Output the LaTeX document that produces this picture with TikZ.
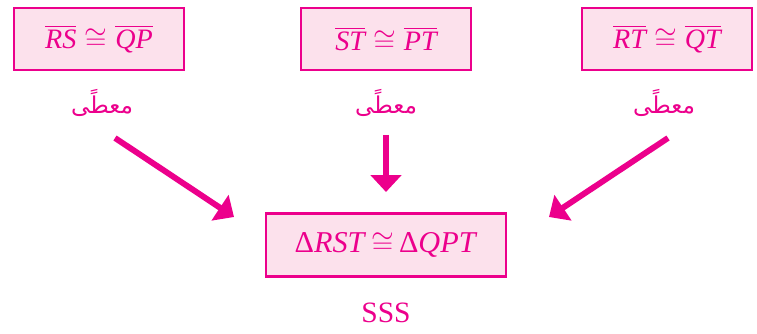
\documentclass[tikz,border=0pt]{standalone}
\usepackage{amsmath}
\usepackage{fontspec}
\usepackage{xcolor}
\usepackage{tikz}
\usetikzlibrary{positioning, arrows.meta}
\setmainfont{Liberation Serif}
\newfontfamily\arabicfont[Script=Arabic]{DejaVu Sans}
\TeXXeTstate=1
\definecolor{tmagenta}{RGB}{236,0,140}
\definecolor{tpink}{RGB}{252,225,236}
\newcommand{\seg}[1]{\overline{\textit{#1}}}

\begin{document}
\begin{tikzpicture}[x=0.025cm, y=-0.025cm,
    givenbox/.style={draw=tmagenta, fill=tpink, line width=1.9pt, text=tmagenta,
      minimum width=4.25cm, minimum height=1.55cm, font=\fontsize{20}{24}\selectfont},
    resultbox/.style={givenbox, minimum width=6cm, minimum height=1.58cm},
    reason/.style={text=tmagenta, font=\fontsize{16.5}{20}\selectfont},
    implies/.style={-{Triangle[length=0.42cm, width=0.75cm]}, line width=4.2pt, tmagenta}]
    \useasboundingbox (0,0) rectangle (757,334);

    % Given sides
    \node[givenbox] (rsqp) at (99,39) {$\seg{RS}\cong\seg{QP}$};
    \node[givenbox] (stpt) at (386,39) {$\seg{ST}\cong\seg{PT}$};
    \node[givenbox] (rtqt) at (667,39) {$\seg{RT}\cong\seg{QT}$};

    % Reasons below
    \node[reason] (given1) at (102,103) {\arabicfont\beginR معطًى\endR};
    \node[reason] (given2) at (386,103) {\arabicfont\beginR معطًى\endR};
    \node[reason] (given3) at (664,103) {\arabicfont\beginR معطًى\endR};

    % Conclusion
    \node[resultbox, font=\fontsize{21.5}{25}\selectfont] (tri) at (386,245)
      {Δ\textit{RST}\,$\cong$\,Δ\textit{QPT}};
    \node[reason, font=\fontsize{21}{24}\selectfont] (sss) at (386,313) {SSS};

    % Arrows
    \coordinate (from1) at (115,138);
    \coordinate (to1) at (234,217);
    \coordinate (from2) at (386,135);
    \coordinate (to2) at (386,192);
    \coordinate (from3) at (668,138);
    \coordinate (to3) at (549,217);
    \draw[implies] (from1) -- (to1);
    \draw[implies] (from2) -- (to2);
    \draw[implies] (from3) -- (to3);
\end{tikzpicture}
\end{document}
